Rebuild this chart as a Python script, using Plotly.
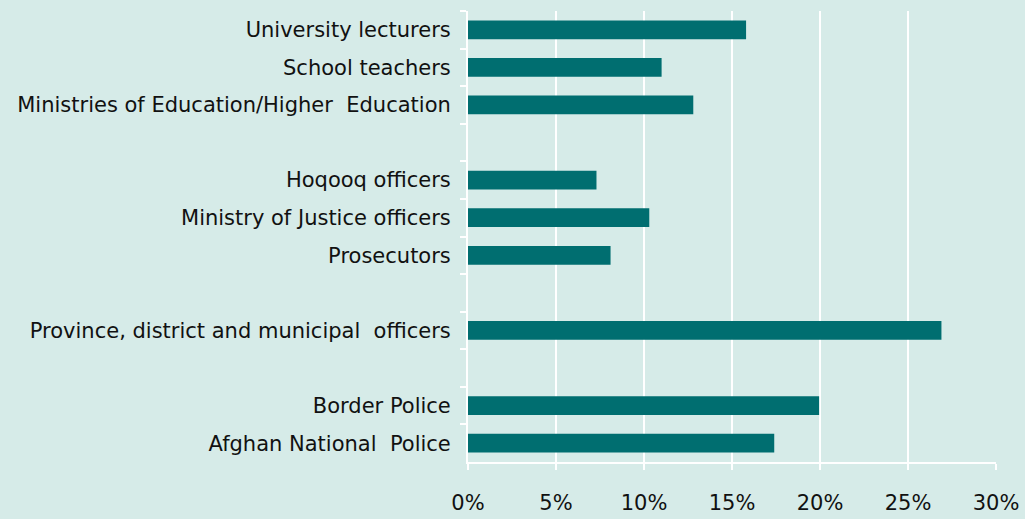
import plotly.graph_objects as go

categories = [
    "University lecturers",
    "School teachers",
    "Ministries of Education/Higher  Education",
    " ",
    "Hoqooq officers",
    "Ministry of Justice officers",
    "Prosecutors",
    "  ",
    "Province, district and municipal  officers",
    "   ",
    "Border Police",
    "Afghan National  Police",
]
values = [15.8, 11.0, 12.8, None, 7.3, 10.3, 8.1, None, 26.9, None, 19.95, 17.4]
x_ticks = [0, 5, 10, 15, 20, 25, 30]
x_tick_labels = ["0%", "5%", "10%", "15%", "20%", "25%", "30%"]

BG = "#d6ebe8"
BAR = "#006e70"
FONT = "DejaVu Sans, sans-serif"
FS = 21

fig = go.Figure(
    go.Bar(
        y=categories,
        x=values,
        orientation="h",
        marker=dict(color=BAR, line=dict(width=0)),
        width=0.5,
        hoverinfo="x+y",
    )
)

fig.update_layout(
    width=1025,
    height=519,
    paper_bgcolor=BG,
    plot_bgcolor=BG,
    margin=dict(l=468, r=29, t=11, b=57, autoexpand=False),
    font=dict(family=FONT, size=FS, color="#111111"),
    showlegend=False,
)

fig.update_xaxes(
    range=[0, 30],
    tickvals=x_ticks,
    ticktext=x_tick_labels,
    showgrid=True,
    gridcolor="white",
    gridwidth=2,
    zeroline=False,
    showline=True,
    linecolor="white",
    linewidth=2,
    ticks="outside",
    tickcolor="white",
    ticklen=6,
    tickwidth=2,
    ticklabelstandoff=15,
    automargin=False,
    tickfont=dict(family=FONT, size=FS, color="#111111"),
)

fig.update_yaxes(
    type="category",
    categoryorder="array",
    categoryarray=categories,
    autorange="reversed",
    showgrid=False,
    zeroline=False,
    showline=True,
    linecolor="white",
    linewidth=2,
    ticks="outside",
    tickson="boundaries",
    tickcolor="white",
    ticklen=6,
    tickwidth=2,
    ticklabelstandoff=11,
    automargin=False,
    tickfont=dict(family=FONT, size=FS, color="#111111"),
)

fig.write_html(
    "out.html",
    config={"displayModeBar": False},
    post_script=(
        "document.body.style.margin='0';"
        "document.body.style.padding='0';"
        "document.body.style.background='" + BG + "';"
    ),
)
